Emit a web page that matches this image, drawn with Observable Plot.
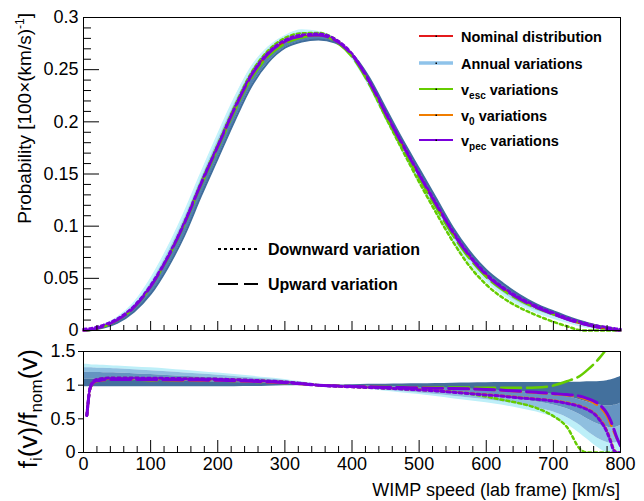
<!DOCTYPE html>
<html><head><meta charset="utf-8">
<script src="https://cdn.jsdelivr.net/npm/d3@7"></script>
<script src="https://cdn.jsdelivr.net/npm/@observablehq/plot@0.6"></script>
<style>
body{margin:0;background:#fff;}
#wrap{position:relative;width:644px;height:501px;overflow:hidden;background:#fff;}
#topPanel,#botPanel{position:absolute;left:0;}
#topPanel{top:0;} #botPanel{top:340px;}
#ov{position:absolute;left:0;top:0;pointer-events:none;}
</style></head>
<body><div id="wrap"><div id="topPanel"></div><div id="botPanel"></div>
<svg id="ov" width="644" height="501"></svg></div>
<script>
// ---------- data ----------
const speeds = [0,5,10,15,20,30,40,50,75,100,125,150,175,200,225,250,275,300,325,350,375,400,425,450,475,500,525,550,575,600,625,650,675,700,720,740,750,760,770,780,785,790,795,800];
const nominal = [0,0.0002,0.0006,0.0012,0.002,0.004,0.0065,0.0098,0.022,0.042,0.069,0.102,0.140,0.176,0.212,0.244,0.265,0.277,0.282,0.283,0.278,0.264,0.239,0.208,0.178,0.149,0.121,0.094,0.071,0.053,0.040,0.030,0.022,0.0155,0.0108,0.0068,0.0052,0.0038,0.0026,0.0016,0.0011,0.0007,0.0003,0];
// annual-variation band edges in the upper panel
const bandLight = [0,0.0003,0.0009,0.0017,0.0027,0.0052,0.0082,0.012,0.026,0.049,0.078,0.112,0.150,0.187,0.222,0.252,0.271,0.282,0.2875,0.286,0.279,0.262,0.236,0.204,0.173,0.143,0.115,0.088,0.066,0.048,0.035,0.025,0.018,0.0125,0.0085,0.005,0.0037,0.0025,0.0014,0.0006,0.0003,0.0001,0,0];
const bandDark = [0,0.0001,0.0003,0.0007,0.0013,0.0028,0.0048,0.0074,0.018,0.035,0.060,0.091,0.129,0.165,0.201,0.234,0.257,0.271,0.277,0.279,0.276,0.265,0.243,0.213,0.183,0.155,0.127,0.099,0.076,0.058,0.045,0.034,0.025,0.0185,0.0135,0.0091,0.0072,0.0056,0.0042,0.0030,0.0024,0.0018,0.0012,0.0006];
// vesc variations as seen in the upper panel (ratio to nominal)
const vescUpTop   = [null,0.55,0.95,0.99,0.995,0.993,0.992,0.991,0.99,0.99,0.99,0.99,0.99,0.99,0.99,0.99,0.991,0.992,0.995,1.0,0.997,0.993,0.99,0.986,0.982,0.978,0.975,0.972,0.968,0.965,0.962,0.96,0.965,0.995,1.058,1.14,1.22,1.31,1.42,1.55,1.63,1.72,1.82,1.93];
const vescDownTop = [null,0.56,0.97,1.02,1.02,1.015,1.013,1.012,1.012,1.012,1.012,1.012,1.012,1.012,1.012,1.012,1.012,1.012,1.01,1.008,1.004,1.0,0.993,0.984,0.972,0.955,0.935,0.91,0.87,0.83,0.78,0.73,0.66,0.54,0.38,0.05,0,0,0,0,0,0,0,0];
// annual-variation ratio curves (lightest -> darkest) in the lower panel
const ratioC0 = [1.31,1.31,1.305,1.30,1.30,1.295,1.29,1.285,1.27,1.257,1.24,1.22,1.20,1.18,1.16,1.135,1.11,1.085,1.05,1.015,0.985,0.96,0.935,0.91,0.885,0.86,0.83,0.80,0.77,0.74,0.70,0.655,0.60,0.52,0.42,0.28,0.20,0.12,0.05,0,0,0,0,0];
const ratioC1 = [1.26,1.26,1.258,1.255,1.253,1.25,1.246,1.242,1.229,1.215,1.198,1.182,1.165,1.149,1.13,1.11,1.09,1.071,1.042,1.012,0.988,0.967,0.946,0.925,0.905,0.884,0.86,0.835,0.81,0.784,0.75,0.71,0.665,0.60,0.52,0.40,0.32,0.25,0.19,0.15,0.14,0.14,0.15,0.17];
const ratioC2 = [1.19,1.19,1.189,1.188,1.187,1.185,1.183,1.18,1.17,1.158,1.145,1.133,1.12,1.108,1.094,1.08,1.066,1.052,1.03,1.009,0.992,0.977,0.962,0.947,0.932,0.916,0.898,0.88,0.862,0.843,0.815,0.785,0.75,0.705,0.65,0.56,0.50,0.45,0.41,0.38,0.37,0.37,0.38,0.40];
const ratioC3 = [1.09,1.09,1.09,1.089,1.089,1.088,1.087,1.086,1.08,1.074,1.067,1.06,1.053,1.047,1.04,1.033,1.027,1.02,1.012,1.004,0.997,0.991,0.985,0.979,0.972,0.964,0.957,0.95,0.941,0.932,0.918,0.903,0.885,0.862,0.83,0.78,0.75,0.72,0.70,0.69,0.69,0.70,0.71,0.73];
const ratioC4 = [0.975,0.975,0.975,0.975,0.975,0.975,0.975,0.975,0.975,0.975,0.975,0.975,0.975,0.975,0.977,0.98,0.985,0.99,0.995,0.998,1.003,1.008,1.012,1.015,1.018,1.02,1.025,1.03,1.033,1.035,1.038,1.04,1.04,1.04,1.045,1.045,1.05,1.05,1.055,1.065,1.075,1.09,1.11,1.13];
// parameter variations in the lower panel, ratio f_i / f_nom
const vescUp   = [null,0.55,0.95,1.035,1.06,1.075,1.08,1.08,1.08,1.078,1.076,1.073,1.07,1.067,1.061,1.054,1.044,1.034,1.018,1.0,0.992,0.985,0.98,0.975,0.972,0.97,0.968,0.966,0.964,0.962,0.96,0.96,0.965,0.995,1.058,1.14,1.22,1.31,1.42,1.55,1.63,1.72,1.82,1.93];
const vescDown = [null,0.55,0.97,1.06,1.085,1.1,1.105,1.105,1.105,1.103,1.1,1.097,1.094,1.09,1.082,1.073,1.061,1.047,1.025,1.0,0.985,0.975,0.965,0.955,0.943,0.93,0.915,0.90,0.87,0.83,0.78,0.73,0.66,0.54,0.38,0.05,0,0,0,0,0,0,0,0];
const v0Up     = [null,0.55,0.95,1.035,1.06,1.075,1.08,1.08,1.08,1.078,1.076,1.073,1.07,1.067,1.061,1.054,1.044,1.034,1.018,1.0,0.99,0.982,0.976,0.97,0.965,0.96,0.955,0.95,0.944,0.935,0.922,0.906,0.888,0.868,0.85,0.82,0.785,0.74,0.67,0.54,0.43,0.31,0.20,0.14];
const v0Down   = [null,0.55,0.965,1.055,1.08,1.095,1.1,1.1,1.1,1.098,1.095,1.092,1.089,1.085,1.078,1.07,1.058,1.045,1.023,1.0,0.986,0.976,0.966,0.956,0.945,0.933,0.918,0.9,0.88,0.86,0.84,0.818,0.797,0.772,0.74,0.69,0.65,0.59,0.49,0.32,0.19,0.05,0,0];
const pecUp    = [null,0.55,0.96,1.04,1.065,1.08,1.085,1.085,1.085,1.083,1.08,1.077,1.075,1.072,1.066,1.058,1.048,1.037,1.02,1.0,0.99,0.982,0.976,0.97,0.965,0.96,0.955,0.95,0.945,0.937,0.925,0.91,0.893,0.875,0.86,0.835,0.805,0.765,0.70,0.58,0.48,0.35,0.21,0.10];
const pecDown  = [null,0.55,0.97,1.06,1.085,1.1,1.105,1.105,1.105,1.103,1.1,1.097,1.094,1.09,1.082,1.073,1.061,1.047,1.025,1.0,0.985,0.975,0.965,0.955,0.943,0.93,0.915,0.895,0.875,0.855,0.835,0.81,0.79,0.765,0.73,0.68,0.64,0.58,0.47,0.30,0.17,0.03,0,0];

const yTicksTop = [0,0.05,0.1,0.15,0.2,0.25,0.3];
const yTicksBot = [0,0.5,1,1.5];
const xTicks = [0,100,200,300,400,500,600,700,800];
const legendTop = [
  {color:"#e41a1c", w:2,   main:"Nominal distribution", sub:"", rest:""},
  {color:"#8fc3ea", w:3.5, main:"Annual variations", sub:"", rest:""},
  {color:"#66cc00", w:2,   main:"v", sub:"esc", rest:" variations"},
  {color:"#f07d00", w:2,   main:"v", sub:"0", rest:" variations"},
  {color:"#7a00dc", w:2,   main:"v", sub:"pec", rest:" variations"}
];
const legendStyle = [
  {dash:"3,3", label:"Downward variation"},
  {dash:"20,6", label:"Upward variation"}
];

// ---------- table ----------
const rows = speeds.map((v, i) => ({
  v, nom: nominal[i], light: bandLight[i], dark: bandDark[i],
  vescUpTop: vescUpTop[i], vescDownTop: vescDownTop[i],
  c0: ratioC0[i], c1: ratioC1[i], c2: ratioC2[i], c3: ratioC3[i], c4: ratioC4[i],
  vescUp: vescUp[i], vescDown: vescDown[i], v0Up: v0Up[i], v0Down: v0Down[i],
  pecUp: pecUp[i], pecDown: pecDown[i]
}));
const xMinor = d3.range(0, 801, 20).filter(d => d % 100 !== 0);
const yMinorTop = d3.range(0, 31, 1).map(d => d / 100).filter((d, i) => i % 5 !== 0);

const FONT = "Liberation Sans, Arial, Helvetica, sans-serif";
const RED = "#e41a1c", GREEN = "#66cc00", ORANGE = "#f07d00", PURPLE = "#7a00dc";
const DASH = "20,6", DOT = "3,3";
const curve = "monotone-x";
const prod = k => d => (d[k] == null ? NaN : d.nom * d[k]);
const rat = k => d => (d[k] == null ? NaN : d[k]);

const topChart = Plot.plot({
  width: 644, height: 345, marginLeft: 83, marginRight: 24, marginTop: 17, marginBottom: 15,
  x: {domain: [0, 800], label: null},
  y: {domain: [0, 0.3], label: null},
  style: {fontFamily: FONT, fontSize: "18px", color: "#000", background: "transparent", overflow: "visible"},
  marks: [
    Plot.areaY(rows, {x: "v", y1: "nom", y2: "light", fill: "#a3d3ec", curve}),
    Plot.areaY(rows, {x: "v", y1: "nom", y2: "dark", fill: "#5283b1", curve}),
    Plot.line(rows, {x: "v", y: "light", stroke: "#c4f3fb", strokeWidth: 2.5, curve}),
    Plot.line(rows, {x: "v", y: "dark", stroke: "#3f6d9c", strokeWidth: 2, curve}),
    Plot.line(rows, {x: "v", y: "nom", stroke: RED, strokeWidth: 2, curve}),
    Plot.line(rows, {x: "v", y: "nom", stroke: ORANGE, strokeWidth: 2, strokeDasharray: DASH, curve}),
    Plot.line(rows, {x: "v", y: prod("vescUpTop"), stroke: GREEN, strokeWidth: 2.2, strokeDasharray: DASH, curve}),
    Plot.line(rows, {x: "v", y: prod("vescDownTop"), stroke: GREEN, strokeWidth: 2.5, strokeDasharray: DOT, curve}),
    Plot.line(rows, {x: "v", y: "nom", stroke: PURPLE, strokeWidth: 2.5, strokeDasharray: DASH, curve}),
    Plot.line(rows, {x: "v", y: "nom", dy: -1.5, stroke: PURPLE, strokeWidth: 2.5, strokeDasharray: DOT, curve}),
    Plot.frame({stroke: "#000", strokeWidth: 1}),
    Plot.axisY({ticks: yTicksTop, tickSize: 0, tickPadding: 5, tickFormat: d => String(d), label: null}),
    Plot.axisY({ticks: yTicksTop, tickSize: 16, dx: 16, tickFormat: () => "", label: null}),
    Plot.axisY({ticks: yMinorTop, tickSize: 8, dx: 8, tickFormat: () => "", label: null}),
    Plot.axisX({ticks: xTicks, tickSize: 9, dy: -9, tickFormat: () => "", label: null}),
    Plot.axisX({ticks: xMinor, tickSize: 5, dy: -5, tickFormat: () => "", label: null})
  ]
});
document.getElementById("topPanel").appendChild(topChart);

const botChart = Plot.plot({
  width: 644, height: 161, marginLeft: 83, marginRight: 24, marginTop: 11, marginBottom: 49,
  x: {domain: [0, 800], label: null},
  y: {domain: [0, 1.5], label: null},
  style: {fontFamily: FONT, fontSize: "18px", color: "#000", background: "transparent", overflow: "visible"},
  marks: [
    Plot.areaY(rows, {x: "v", y1: "c0", y2: "c1", fill: "#bdeff8", curve}),
    Plot.areaY(rows, {x: "v", y1: "c1", y2: "c2", fill: "#8fbfdf", curve}),
    Plot.areaY(rows, {x: "v", y1: "c2", y2: "c3", fill: "#6594c1", curve}),
    Plot.areaY(rows, {x: "v", y1: "c3", y2: "c4", fill: "#43709d", curve}),
    Plot.line(rows, {x: "v", y: rat("vescDown"), stroke: GREEN, strokeWidth: 2.5, strokeDasharray: DOT, curve, clip: true}),
    Plot.line(rows, {x: "v", y: rat("vescUp"), stroke: GREEN, strokeWidth: 2.5, strokeDasharray: DASH, curve, clip: true}),
    Plot.line(rows, {x: "v", y: rat("v0Down"), stroke: ORANGE, strokeWidth: 2.5, strokeDasharray: DOT, curve, clip: true}),
    Plot.line(rows, {x: "v", y: rat("v0Up"), stroke: ORANGE, strokeWidth: 2.5, strokeDasharray: DASH, curve, clip: true}),
    Plot.line(rows, {x: "v", y: rat("pecDown"), stroke: PURPLE, strokeWidth: 3, strokeDasharray: DOT, curve, clip: true}),
    Plot.line(rows, {x: "v", y: rat("pecUp"), stroke: PURPLE, strokeWidth: 3, strokeDasharray: DASH, curve, clip: true}),
    Plot.frame({stroke: "#000", strokeWidth: 1}),
    Plot.axisY({ticks: yTicksBot, tickSize: 5, tickPadding: 3, tickFormat: d => String(d), label: null}),
    Plot.axisX({ticks: xTicks, tickSize: 0, tickPadding: 5, tickFormat: d => String(d), label: null}),
    Plot.axisX({ticks: xTicks, tickSize: 12, dy: -12, tickFormat: () => "", label: null}),
    Plot.axisX({ticks: xMinor, tickSize: 6, dy: -6, tickFormat: () => "", label: null})
  ]
});
document.getElementById("botPanel").appendChild(botChart);

// ---------- titles and legends (overlay) ----------
const ov = document.getElementById("ov");
let s = `<g font-family="${FONT}" fill="#000">`;
s += `<text transform="translate(31,13) rotate(-90)" text-anchor="end" font-size="19">Probability [100×(km/s)<tspan font-size="12" dy="-7">-1</tspan><tspan dy="7">]</tspan></text>`;
s += `<text transform="translate(37,349) rotate(-90)" text-anchor="end" font-size="26">f<tspan font-size="17" dy="5">i</tspan><tspan dy="-5">(v)/f</tspan><tspan font-size="17" dy="5">nom</tspan><tspan dy="-5">(v)</tspan></text>`;
s += `<text x="620" y="496" text-anchor="end" font-size="18">WIMP speed (lab frame) [km/s]</text>`;
const rowsY = [36, 63, 89, 115, 140];
legendTop.forEach((e, i) => {
  const y = rowsY[i];
  s += `<line x1="419" x2="453" y1="${y}" y2="${y}" stroke="${e.color}" stroke-width="${e.w}"/>`;
  s += `<rect x="435.5" y="${y - 0.5}" width="1.5" height="1.5" fill="#000"/>`;
  let t = `<tspan>${e.main}</tspan>`;
  if (e.sub) t += `<tspan font-size="10" dy="4">${e.sub}</tspan><tspan dy="-4">${e.rest.replace(/^ /, "\u00a0")}</tspan>`;
  s += `<text x="461" y="${y + 5.5}" font-size="14.5" font-weight="bold">${t}</text>`;
});
const styleY = [249, 284];
legendStyle.forEach((e, i) => {
  const y = styleY[i];
  s += `<line x1="218" x2="258" y1="${y}" y2="${y}" stroke="#000" stroke-width="2" stroke-dasharray="${e.dash}"/>`;
  s += `<text x="268" y="${y + 6}" font-size="16" font-weight="bold">${e.label}</text>`;
});
s += `</g>`;
ov.innerHTML = s;
</script>
</body></html>
